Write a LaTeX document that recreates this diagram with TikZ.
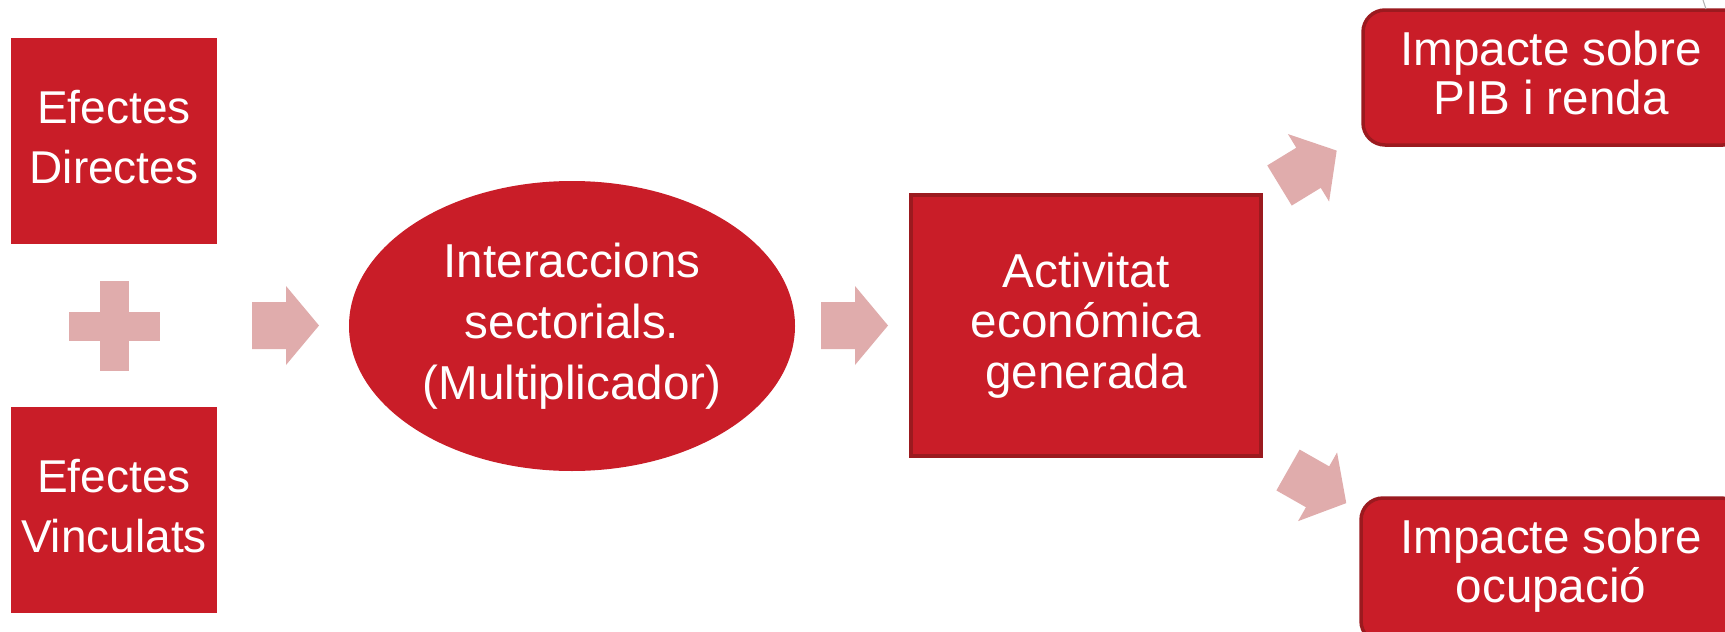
\documentclass[tikz,border=0pt]{standalone}
\usepackage{fontspec}
\setmainfont{Liberation Sans}
\usetikzlibrary{shapes.geometric}
\definecolor{boxred}{HTML}{C91D28}
\definecolor{edgered}{HTML}{9B1A1F}
\definecolor{pinkarrow}{HTML}{E0ACAC}
\tikzset{
  leftbox/.style={rectangle, fill=boxred, minimum width=206pt, minimum height=206pt,
    inner sep=0pt},
  lefttext/.style={text=white, align=center, inner sep=0pt,
    font=\fontsize{46}{60}\selectfont},
  ovalbox/.style={ellipse, fill=boxred, text=white, align=center,
    minimum width=446pt, minimum height=290pt, inner sep=0pt,
    font=\fontsize{47.6}{61}\selectfont},
  actbox/.style={rectangle, fill=boxred, draw=edgered, line width=3.5pt, text=white,
    align=center, minimum width=350pt, minimum height=261pt, inner sep=0pt,
    font=\fontsize{47.6}{50.5}\selectfont},
  resbox/.style={rectangle, rounded corners=22pt, fill=boxred, draw=edgered,
    line width=3.5pt, minimum width=382pt, inner sep=0pt},
  restext/.style={text=white, align=center, inner sep=0pt,
    font=\fontsize{47.6}{49.5}\selectfont},
  blockarrow/.pic={\fill[pinkarrow] (0,-23.5) -- (34,-23.5) -- (34,-39.5) -- (67,0)
     -- (34,39.5) -- (34,23.5) -- (0,23.5) -- cycle;},
  plussign/.pic={\fill[pinkarrow] (-14.5,-45) rectangle (14.5,45);
     \fill[pinkarrow] (-45.5,-14.5) rectangle (45.5,14.5);}
}
\begin{document}
\begin{tikzpicture}[x=1pt,y=-1pt]
\useasboundingbox (0,0) rectangle (1725,632);
\clip (0,0) rectangle (1725,632);
\fill[white] (0,0) rectangle (1725,632);

\node[leftbox] (dirbox) at (114,141) {};
\node[lefttext] (dir) at (114,137.5) {Efectes\\Directes};
\node[leftbox] (vinbox) at (114,510) {};
\node[lefttext] (vin) at (114,506.5) {Efectes\\Vinculats};
\pic at (114.5,326) {plussign};

\pic at (252,325.5) {blockarrow};
\node[ovalbox] (int) at (572,326) {Interaccions\\sectorials.\\(Multiplicador)};
\pic at (821,325.5) {blockarrow};
\node[actbox] (act) at (1086,325.5) {Activitat\\econ\'omica\\generada};

\pic[rotate=31.4] at (1279.5,185.5) {blockarrow};
\pic[rotate=-29.6] at (1288,470) {blockarrow};

\node[resbox, minimum height=135pt] (pibbox) at (1554,77.5) {};
\node[restext] (pib) at (1551,73) {Impacte sobre\\PIB i renda};
\node[resbox, minimum height=145pt] (occbox) at (1552,570.5) {};
\node[restext] (occ) at (1551,565.5) {Impacte sobre\\ocupaci\'o};

\draw[gray!60, line width=1pt] (1703,0) -- (1706,9);
\end{tikzpicture}
\end{document}
